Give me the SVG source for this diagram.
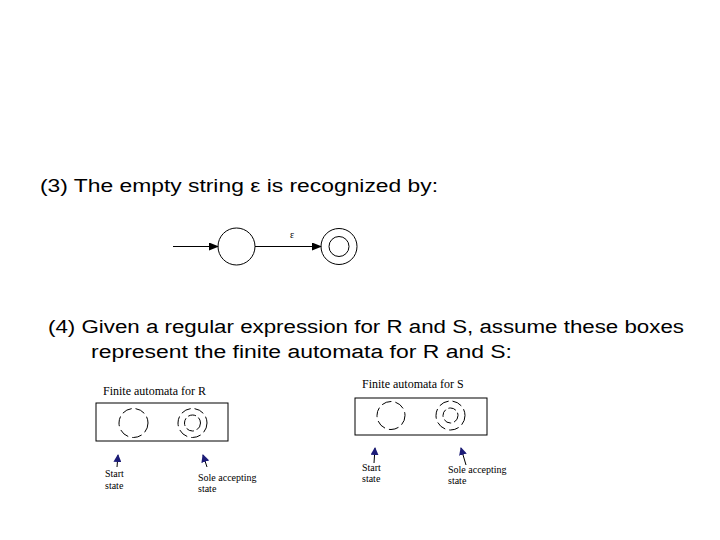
<svg xmlns="http://www.w3.org/2000/svg" width="720" height="540" viewBox="0 0 720 540">
<defs>
<style>
.big{font-family:"Liberation Sans","Noto Sans",sans-serif;font-size:18px;fill:#000}
.sm{font-family:"Liberation Serif","DejaVu Serif",serif;font-size:12px;fill:#000}
.tiny{font-family:"Liberation Serif","DejaVu Serif",serif;font-size:10px;fill:#000}
.st{fill:none;stroke:#000;stroke-width:1}
.ds{fill:none;stroke:#000;stroke-width:1;stroke-dasharray:10 4}
.di{fill:none;stroke:#000;stroke-width:1;stroke-dasharray:8 3}
.ln{stroke:#000;stroke-width:1;fill:none}
.pt{stroke:#000;stroke-width:1;fill:none}
</style>
<marker id="ah" markerWidth="10" markerHeight="8" refX="9" refY="4" orient="auto" markerUnits="userSpaceOnUse">
<path d="M0,0 L10,4 L0,8 Z" fill="#000"/>
</marker>
<marker id="nv" markerWidth="8" markerHeight="8" refX="7" refY="4" orient="auto" markerUnits="userSpaceOnUse">
<path d="M0,0 L8,4 L0,8 Z" fill="#1c1c78"/>
</marker>
</defs>
<rect width="720" height="540" fill="#fff"/>
<text class="big" x="40" y="192" textLength="398" lengthAdjust="spacingAndGlyphs">(3) The empty string ε is recognized by:</text>
<text class="big" x="48" y="333" textLength="636" lengthAdjust="spacingAndGlyphs">(4) Given a regular expression for R and S, assume these boxes</text>
<text class="big" x="91" y="358" textLength="421" lengthAdjust="spacingAndGlyphs">represent the finite automata for R and S:</text>
<g id="eps-start"><circle class="st" cx="236.5" cy="246.5" r="18.5"/></g>
<g id="eps-accept"><circle class="st" cx="339" cy="246.5" r="18"/><circle class="st" cx="339" cy="246.5" r="10"/></g>
<g id="eps-connectors">
<line class="ln" x1="173" y1="246.5" x2="218" y2="246.5" marker-end="url(#ah)"/>
<line class="ln" x1="255" y1="246.5" x2="321" y2="246.5" marker-end="url(#ah)"/>
<text class="tiny" x="292" y="238" text-anchor="middle">ε</text>
</g>
<g id="box-R">
<text class="sm" x="103" y="395">Finite automata for R</text>
<rect class="st" x="96" y="403" width="132" height="38"/>
<circle class="ds" cx="133.5" cy="423" r="14.5"/>
<circle class="ds" cx="192.5" cy="423" r="14.5"/>
<circle class="di" cx="192.5" cy="423" r="8"/>
</g>
<g id="box-S">
<text class="sm" x="362" y="388">Finite automata for S</text>
<rect class="st" x="355" y="398" width="132" height="37"/>
<circle class="ds" cx="391" cy="415.5" r="14"/>
<circle class="ds" cx="450.5" cy="415.5" r="14.5"/>
<circle class="di" cx="450.5" cy="415.5" r="7.5"/>
</g>
<g id="labels-R">
<text class="tiny" x="105" y="477">Start</text>
<text class="tiny" x="105" y="489">state</text>
<text class="tiny" x="198" y="481">Sole accepting</text>
<text class="tiny" x="198" y="492">state</text>
</g>
<g id="labels-S">
<text class="tiny" x="362" y="471">Start</text>
<text class="tiny" x="362" y="482">state</text>
<text class="tiny" x="448" y="473">Sole accepting</text>
<text class="tiny" x="448" y="484">state</text>
</g>
<g id="connectors">
<line class="pt" x1="117" y1="467" x2="118" y2="455" marker-end="url(#nv)"/>
<line class="pt" x1="207" y1="467" x2="203" y2="455" marker-end="url(#nv)"/>
<line class="pt" x1="374" y1="463" x2="375" y2="448" marker-end="url(#nv)"/>
<line class="pt" x1="466" y1="465" x2="461" y2="448" marker-end="url(#nv)"/>
</g>
</svg>
